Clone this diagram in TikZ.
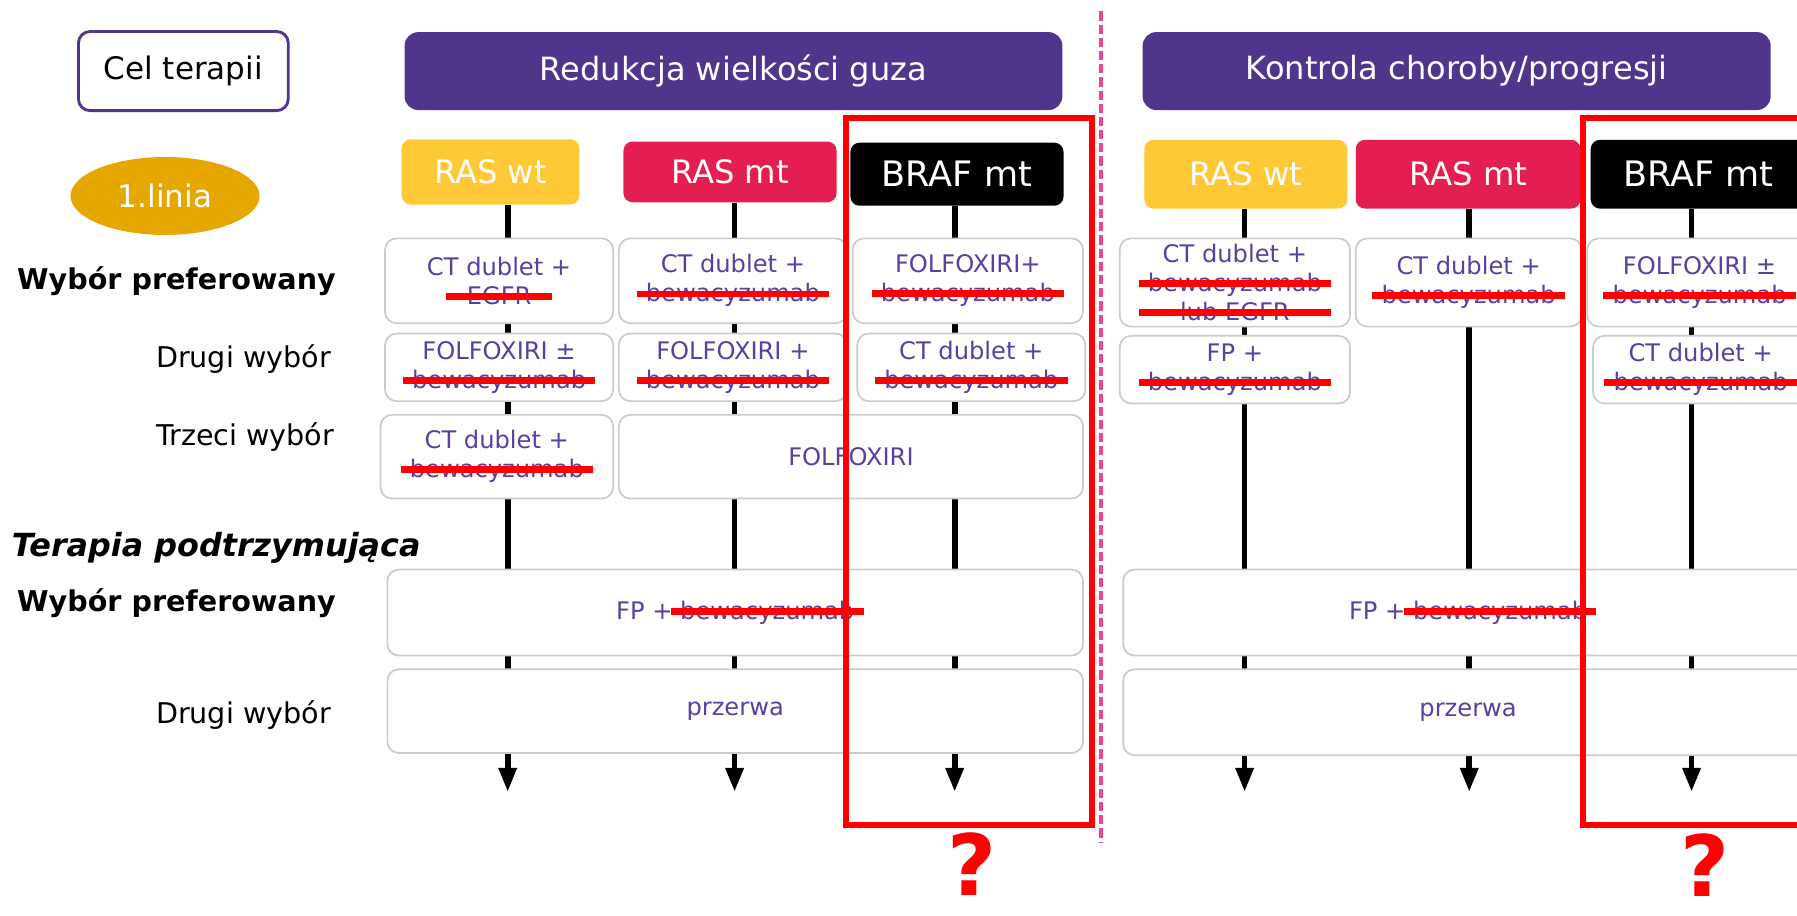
\documentclass[tikz,border=0pt]{standalone}
\usepackage{fontspec}
\setmainfont{DejaVu Sans}
\usetikzlibrary{arrows.meta,shapes.geometric}
\definecolor{fiolet}{HTML}{51358D}
\definecolor{zolty}{HTML}{FFC836}
\definecolor{malinowy}{HTML}{E41E50}
\definecolor{zloty}{HTML}{E6A800}
\definecolor{tekst}{HTML}{5B3FA0}
\definecolor{ramka}{HTML}{CBCBCB}
\definecolor{rozowy}{HTML}{EC4595}
\definecolor{czerwony}{HTML}{FF0000}
\newlength{\pxj}\setlength{\pxj}{0.02cm}
\newcommand{\rozmiar}[2]{\fontsize{#1}{#2}\selectfont}
\newcommand{\przekresl}[2][168]{%
  \setbox0=\hbox{#2}%
  \makebox[\wd0]{\copy0\kern-\wd0\makebox[\wd0][c]{\textcolor{czerwony}{\rule[\dimexpr0.33em-3\pxj\relax]{#1\pxj}{6\pxj}}}}}
\begin{document}
\begin{tikzpicture}[x=0.02cm, y=-0.02cm,
    rozm/.style 2 args={minimum width=#1*0.02cm, minimum height=#2*0.02cm},
    naglowek/.style={fill=fiolet, rounded corners=0.24cm, text=white, font=\rozmiar{15.9}{19}},
    kolumna/.style={rounded corners=0.16cm, text=white, font=\rozmiar{16}{19}},
    kom/.style={fill=white, draw=ramka, line width=0.03cm, rounded corners=0.2cm, text=tekst, align=center, inner sep=0pt, font=\rozmiar{12}{14.4}},
    opis/.style={inner sep=0pt, font=\rozmiar{14.2}{17}},
    linia/.style={line width=0.1cm, -{Triangle[length=0.42cm,width=0.3cm]}},
    czerwona/.style={draw=czerwony, line width=0.1cm},
    pyt/.style={inner sep=0pt, anchor=base, text=czerwony, font=\bfseries\rozmiar{42}{46}}]
\useasboundingbox (0,0) rectangle (1568,799);
\node[draw=fiolet, line width=0.05cm, rounded corners=0.2cm, rozm={183}{69}, font=\rozmiar{15.4}{18}] (cel) at (160,62) {Cel terapii};
\node[ellipse, fill=zloty, text=white, rozm={165}{68}, font=\rozmiar{15.4}{18}] (linia) at (144,171) {1.linia};
\node[opis, font=\bfseries\rozmiar{14.2}{17}] (wybor1) at (154,245) {Wybór preferowany};
\node[opis, anchor=east] (drugi1) at (289,313) {Drugi wybór};
\node[opis, anchor=east] (trzeci) at (292,381) {Trzeci wybór};
\node[inner sep=0pt, anchor=west, font=\bfseries\itshape\rozmiar{15.8}{19}] (podtrz) at (10,478) {Terapia podtrzymująca};
\node[opis, font=\bfseries\rozmiar{14.2}{17}] (wybor2) at (154,526) {Wybór preferowany};
\node[opis, anchor=east] (drugi2) at (289,624) {Drugi wybór};
\node[naglowek, rozm={574}{68}] (redukcja) at (640,62) {Redukcja wielkości guza};
\node[naglowek, rozm={548}{68}] (kontrola) at (1271,62) {Kontrola choroby/progresji};
\node[kolumna, fill=zolty, rozm={155}{57}] (lwt) at (428,150) {RAS wt};
\node[kolumna, fill=malinowy, rozm={186}{53}] (lmt) at (637,150) {RAS mt};
\node[kolumna, fill=black, rozm={186}{55}, font=\rozmiar{17.4}{20}] (lbraf) at (835,152) {BRAF mt};
\node[kolumna, fill=zolty, rozm={177}{60}] (pwt) at (1087,152) {RAS wt};
\node[kolumna, fill=malinowy, rozm={196}{60}] (pmt) at (1281,152) {RAS mt};
\node[kolumna, fill=black, rozm={188}{60}, font=\rozmiar{17.4}{20}] (pbraf) at (1482,152) {BRAF mt};
\draw[rozowy, line width=0.07cm, dash pattern=on 0.16cm off 0.07cm] (961,10) -- (961,735);
\coordinate (lk1) at (443,691);
\coordinate (lk2) at (641,691);
\coordinate (lk3) at (833,691);
\coordinate (pk1) at (1086,691);
\coordinate (pk2) at (1282,691);
\coordinate (pk3) at (1476,691);
\foreach \g/\k in {lwt/lk1, lmt/lk2, lbraf/lk3, pwt/pk1, pmt/pk2, pbraf/pk3}
  \draw[linia] (\g.south -| \k) -- (\k);
\node[kom, rozm={199}{74}] (lwt1) at (435.5,245) {CT dublet +\\\przekresl[92]{EGFR}};
\node[kom, rozm={199}{74}] (lmt1) at (639.5,245) {CT dublet +\\\przekresl{bewacyzumab}};
\node[kom, rozm={201}{74}] (lbr1) at (844.5,245) {FOLFOXIRI+\\\przekresl{bewacyzumab}};
\node[kom, rozm={199}{59}] (lwt2) at (435.5,320.5) {FOLFOXIRI ±\\\przekresl{bewacyzumab}};
\node[kom, rozm={199}{59}] (lmt2) at (639.5,320.5) {FOLFOXIRI +\\\przekresl{bewacyzumab}};
\node[kom, rozm={199}{59}] (lbr2) at (847.5,320.5) {CT dublet +\\\przekresl{bewacyzumab}};
\node[kom, rozm={203}{73}] (lwt3) at (433.5,398.5) {CT dublet +\\\przekresl{bewacyzumab}};
\node[kom, rozm={405}{73}] (lmt3) at (742.5,398.5) {FOLFOXIRI};
\node[kom, rozm={607}{75}] (lfp) at (641.5,534.5) {FP + \przekresl{bewacyzumab}};
\node[kom, rozm={607}{73}] (lprz) at (641.5,620.5) {przerwa};
\node[kom, rozm={201}{77}] (pwt1) at (1077.5,246.5) {CT dublet +\\\przekresl{bewacyzumab}\\\przekresl{lub EGFR}};
\node[kom, rozm={197}{77}] (pmt1) at (1281.5,246.5) {CT dublet +\\\przekresl{bewacyzumab}};
\node[kom, rozm={196}{77}] (pbr1) at (1483,246.5) {FOLFOXIRI ±\\\przekresl{bewacyzumab}};
\node[kom, rozm={201}{59}] (pwt2) at (1077.5,322.5) {FP +\\\przekresl{bewacyzumab}};
\node[kom, rozm={188}{59}] (pbr2) at (1484,322.5) {CT dublet +\\\przekresl{bewacyzumab}};
\node[kom, rozm={602}{75}] (pfp) at (1281,534.5) {FP + \przekresl{bewacyzumab}};
\node[kom, rozm={602}{75}] (pprz) at (1281,621.5) {przerwa};
\draw[czerwona] (738,103) rectangle (953,720);
\draw[czerwona] (1381,103) rectangle (1590,720);
\node[pyt] (lpyt) at (848,781) {?};
\node[pyt] (ppyt) at (1488,782) {?};
\end{tikzpicture}
\end{document}
